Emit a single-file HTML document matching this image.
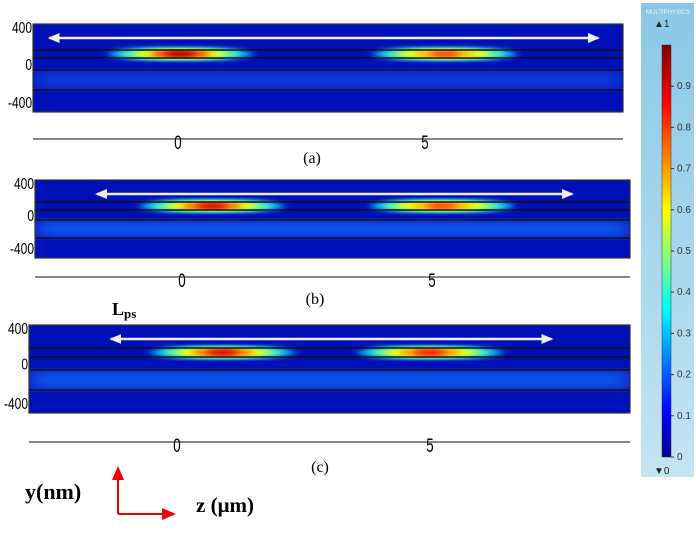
<!DOCTYPE html>
<html><head><meta charset="utf-8"><style>
body{margin:0;background:#fff;width:696px;height:530px;overflow:hidden;font-family:"Liberation Serif",serif}
</style></head><body>
<svg id="fig" width="696" height="530" viewBox="0 0 696 530" xmlns="http://www.w3.org/2000/svg">
<defs>
<linearGradient id="jet" x1="0" y1="1" x2="0" y2="0">
<stop offset="0" stop-color="#00008f"/><stop offset="0.11" stop-color="#0000ff"/>
<stop offset="0.36" stop-color="#00ffff"/><stop offset="0.6" stop-color="#ffff00"/>
<stop offset="0.86" stop-color="#ff0000"/><stop offset="1" stop-color="#800000"/>
</linearGradient>
<linearGradient id="cbbg" x1="0" y1="0" x2="0" y2="1"><stop offset="0" stop-color="#8ac8e6"/><stop offset="1" stop-color="#c4e4f2"/></linearGradient>
<filter id="b4"><feGaussianBlur stdDeviation="4 2.5"/></filter>
<filter id="b8"><feGaussianBlur stdDeviation="10 4"/></filter>
<marker id="ah" markerUnits="userSpaceOnUse" markerWidth="12" markerHeight="10" refX="10" refY="5" orient="auto-start-reverse"><path d="M0,0 L12,5 L0,10 z" fill="#eee"/></marker>
<marker id="rh" markerUnits="userSpaceOnUse" markerWidth="14" markerHeight="12" refX="10" refY="6" orient="auto"><path d="M0,0 L14,6 L0,12 z" fill="#e00"/></marker>
</defs>
<g id="panels"></g>
<rect x="641" y="3" width="53" height="474" fill="url(#cbbg)"/>
<text x="668" y="14" font-size="6" fill="#e8f4fa" text-anchor="middle" font-family="Liberation Sans">MULTIPHYSICS</text>
<rect x="662" y="45" width="9" height="412" fill="url(#jet)" stroke="#333" stroke-width="0.5"/>
<g id="cbticks" font-family="Liberation Sans" font-size="10" fill="#333"></g>
<text x="654" y="27" font-size="10" font-family="Liberation Sans" fill="#222">▲1</text>
<text x="654" y="474" font-size="10" font-family="Liberation Sans" fill="#222">▼0</text>
<text x="112" y="315" font-size="18" font-weight="bold">L<tspan font-size="13" dy="3">ps</tspan></text>
<text x="25" y="499" font-size="22" font-weight="bold">y(nm)</text>
<text x="196" y="512" font-size="21" font-weight="bold">z (μm)</text>
<path d="M118,514 L118,470" stroke="#e00" stroke-width="2" marker-end="url(#rh)"/>
<path d="M118,514 L172,514" stroke="#e00" stroke-width="2" marker-end="url(#rh)"/>
</svg>
<script>
const cbTicks=[0,0.1,0.2,0.3,0.4,0.5,0.6,0.7,0.8,0.9];
const panelLabels=["(a)","(b)","(c)"];
const zTicks=[0,5];
const yTicks=[400,0,-400];
// hotspot centres (μm) and peak intensity for each panel
const spotZ=[[0.05,5.4],[0.6,5.2],[0.9,5.0]];
const spotPeak=[[0.95,0.8],[0.9,0.8],[0.9,0.85]];
const arrowZ=[[-2.6,8.5],[-1.7,7.8],[-1.3,7.4]];
const geo=[
 {x0:33,x1:623,y0:24,y1:112,ax:139,z0:178,z5:425,lines:[50,58,70,90],lab:[312,163]},
 {x0:35,x1:630,y0:180,y1:258,ax:277,z0:182,z5:432,lines:[202,210,220,238],lab:[315,304]},
 {x0:29,x1:630,y0:325,y1:413,ax:442,z0:177,z5:430,lines:[348,357,370,390],lab:[320,472]}];
const NS="http://www.w3.org/2000/svg";
function mk(t,a,p){const e=document.createElementNS(NS,t);for(const k in a)e.setAttribute(k,a[k]);p.appendChild(e);return e;}
function jet(v){const s=[[0,[0,0,143]],[0.11,[0,0,255]],[0.36,[0,255,255]],[0.6,[255,255,0]],[0.86,[255,0,0]],[1,[128,0,0]]];
for(let i=1;i<s.length;i++)if(v<=s[i][0]){const t=(v-s[i-1][0])/(s[i][0]-s[i-1][0]);const c=s[i-1][1].map((a,j)=>Math.round(a+(s[i][1][j]-a)*t));return`rgb(${c})`;}return"rgb(128,0,0)";}
const root=document.getElementById('panels');
geo.forEach((g,p)=>{
 const sx=z=>g.z0+(g.z5-g.z0)*z/5;
 const grp=mk('g',{},root);
 
 
 const clip=mk('clipPath',{id:'c'+p},grp);mk('rect',{x:g.x0,y:g.y0,width:g.x1-g.x0,height:g.y1-g.y0},clip);
 const hm=mk('g',{'clip-path':`url(#c${p})`},grp);
 
 
 mk('rect',{x:g.x0,y:g.y0,width:g.x1-g.x0,height:g.y1-g.y0,fill:'#0010b8'},hm);
 mk('rect',{x:g.x0,y:g.lines[2],width:g.x1-g.x0,height:g.lines[3]-g.lines[2],fill:p==0?'#0a35d8':'#1050e8',filter:'url(#b8)'},hm);
 const cy=(g.lines[0]+g.lines[1])/2;
 spotZ[p].forEach((z,i)=>{
  const pk=spotPeak[p][i],cx=sx(z);
  [[0.3,72,7],[0.45,60,6],[0.6,46,5],[pk*0.85,30,4],[pk,15,3]].forEach(([v,rx,ry])=>{
   const e=mk('ellipse',{cx,cy,rx,ry,fill:jet(v),filter:'url(#b4)'},hm);
   
   
  });
 });
 g.lines.forEach(y=>mk('line',{x1:g.x0,x2:g.x1,y1:y,y2:y,stroke:'#111','stroke-width':1.5},grp));
 mk('rect',{x:g.x0,y:g.y0,width:g.x1-g.x0,height:g.y1-g.y0,fill:'none',stroke:'#333','stroke-width':1.2},grp);
 const ar=mk('line',{x1:sx(arrowZ[p][1]),x2:sx(arrowZ[p][0]),y1:g.y0+14,y2:g.y0+14,stroke:'#eee','stroke-width':2.5,'marker-end':'url(#ah)','marker-start':'url(#ah)'},grp);
 
 
 yTicks.forEach((v,i)=>{const y=[g.y0+9,(g.lines[1]+g.lines[2])/2+6,g.y1-4][i];
  const t=mk('text',{x:g.x0-1,y,'font-size':16,'text-anchor':'end','font-family':'Liberation Sans Narrow, Liberation Sans','transform':`translate(${(g.x0-1)*0.25},0) scale(0.75,1)`},grp);t.textContent=v;
  
  });
 mk('line',{x1:g.x0,x2:g.x1,y1:g.ax,y2:g.ax,stroke:'#888','stroke-width':2},grp);
 zTicks.forEach(z=>{const t=mk('text',{x:sx(z),y:g.ax+10,'font-size':19,'text-anchor':'middle','font-family':'Liberation Sans Narrow, Liberation Sans','transform':`translate(${sx(z)*0.3},0) scale(0.7,1)`},grp);t.textContent=z;
  
  });
 const l=mk('text',{x:g.lab[0],y:g.lab[1],'font-size':16,'text-anchor':'middle'},grp);l.textContent=panelLabels[p];
 
 
});
const cb=document.getElementById('cbticks');
cbTicks.forEach(v=>{const y=457-412*v;
 mk('line',{x1:671,x2:674,y1:y,y2:y,stroke:'#333'},cb);
 const t=mk('text',{x:677,y:y+3},cb);t.textContent=v;
 
 });
</script>
</body></html>
